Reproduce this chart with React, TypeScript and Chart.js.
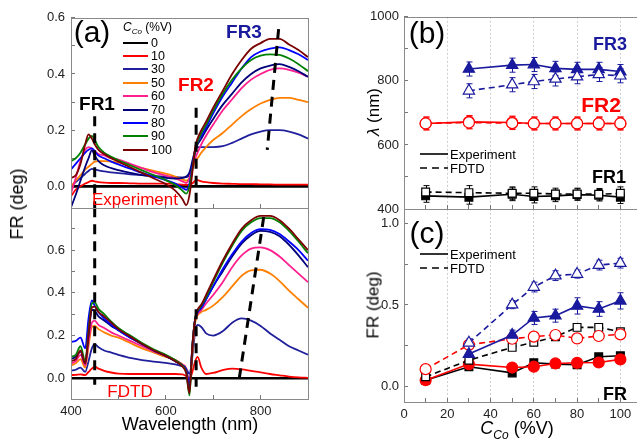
import React, { useEffect, useRef } from 'react';
import { Chart, registerables } from 'chart.js';
Chart.register(...registerables);

// ---------- DATA ----------
const WL = [400, 410, 420, 430, 437, 444, 450, 458, 470, 485, 500, 525, 550, 575, 600, 620, 635, 643, 650, 656, 662, 667, 675, 685, 700, 720, 740, 760, 780, 800, 820, 840, 860, 880, 900];
const CONC = ['0', '10', '30', '50', '60', '70', '80', '90', '100'];
const COLORS = ['#000000', '#ff0000', '#20209c', '#ff8000', '#ff1f8f', '#00007a', '#0000ff', '#008000', '#7a0000'];

// Experiment (top panel)
const EXP_0 = [0, 0, 0, 0, 0, 0, 0, 0, 0, 0, 0, 0, 0, 0, 0, 0, 0, 0, 0, 0, 0, 0, 0, 0, 0, 0, 0, 0, 0, 0, 0, 0, 0, 0, 0];
const EXP_10 = [-0.035, -0.012, 0.0, 0.01, 0.015, 0.02, 0.018, 0.015, 0.013, 0.012, 0.012, 0.011, 0.01, 0.01, 0.01, 0.008, 0.006, 0.005, 0.006, 0.01, 0.02, 0.022, 0.018, 0.015, 0.012, 0.01, 0.009, 0.008, 0.008, 0.007, 0.007, 0.006, 0.006, 0.006, 0.006];
const EXP_30 = [0.0, 0.015, 0.03, 0.045, 0.055, 0.062, 0.06, 0.057, 0.053, 0.05, 0.047, 0.043, 0.04, 0.037, 0.035, 0.033, 0.032, 0.033, 0.04, 0.07, 0.12, 0.14, 0.14, 0.14, 0.14, 0.143, 0.155, 0.17, 0.185, 0.195, 0.2, 0.2, 0.195, 0.185, 0.17];
const EXP_50 = [0.0, 0.02, 0.04, 0.06, 0.07, 0.08, 0.088, 0.09, 0.09, 0.088, 0.085, 0.075, 0.065, 0.055, 0.045, 0.035, 0.025, 0.02, 0.03, 0.06, 0.09, 0.1, 0.12, 0.14, 0.165, 0.19, 0.22, 0.25, 0.275, 0.295, 0.308, 0.315, 0.315, 0.308, 0.3];
const EXP_60 = [-0.025, 0.03, 0.09, 0.13, 0.14, 0.135, 0.125, 0.115, 0.11, 0.1, 0.095, 0.08, 0.065, 0.05, 0.038, 0.028, 0.018, 0.012, 0.03, 0.07, 0.1, 0.12, 0.15, 0.18, 0.22, 0.27, 0.31, 0.35, 0.38, 0.4, 0.415, 0.42, 0.415, 0.405, 0.39];
const EXP_70 = [-0.075, -0.03, 0.02, 0.07, 0.1, 0.128, 0.11, 0.09, 0.075, 0.065, 0.058, 0.048, 0.04, 0.035, 0.03, 0.028, 0.03, 0.035, 0.05, 0.09, 0.13, 0.15, 0.17, 0.2, 0.24, 0.29, 0.33, 0.37, 0.4, 0.42, 0.43, 0.435, 0.425, 0.41, 0.39];
const EXP_80 = [0.06, 0.08, 0.1, 0.12, 0.13, 0.135, 0.125, 0.11, 0.1, 0.088, 0.078, 0.063, 0.048, 0.035, 0.022, 0.01, -0.005, -0.012, 0.01, 0.07, 0.13, 0.16, 0.18, 0.21, 0.26, 0.32, 0.37, 0.42, 0.46, 0.48, 0.49, 0.495, 0.485, 0.47, 0.45];
const EXP_90 = [0.09, 0.1, 0.12, 0.15, 0.17, 0.18, 0.165, 0.14, 0.12, 0.105, 0.093, 0.075, 0.057, 0.04, 0.022, 0.005, -0.015, -0.026, 0.0, 0.06, 0.13, 0.16, 0.19, 0.22, 0.27, 0.33, 0.38, 0.42, 0.45, 0.465, 0.47, 0.468, 0.455, 0.435, 0.41];
const EXP_100 = [0.03, 0.04, 0.08, 0.15, 0.185, 0.17, 0.15, 0.13, 0.115, 0.1, 0.088, 0.068, 0.048, 0.028, 0.008, -0.015, -0.045, -0.067, -0.03, 0.05, 0.14, 0.17, 0.2, 0.23, 0.28, 0.34, 0.4, 0.45, 0.49, 0.51, 0.525, 0.525, 0.505, 0.485, 0.46];

// FDTD (bottom panel)
const FDTD_0 = [0, 0, 0, 0, 0, 0, 0, 0, 0, 0, 0, 0, 0, 0, 0, 0, 0, 0, 0, 0, 0, 0, 0, 0, 0, 0, 0, 0, 0, 0, 0, 0, 0, 0, 0];
const FDTD_10 = [0.015, 0.016, 0.018, 0.015, 0.03, 0.045, 0.055, 0.045, 0.035, 0.027, 0.022, 0.02, 0.02, 0.02, 0.02, 0.02, 0.018, 0.01, -0.005, 0.03, 0.08, 0.1, 0.05, 0.02, 0.025, 0.038, 0.045, 0.042, 0.035, 0.028, 0.02, 0.014, 0.008, 0.004, 0.002];
const FDTD_30 = [0.035, 0.04, 0.05, 0.03, 0.08, 0.14, 0.16, 0.145, 0.13, 0.12, 0.11, 0.095, 0.085, 0.078, 0.072, 0.065, 0.055, 0.045, 0.02, 0.1, 0.22, 0.25, 0.24, 0.21, 0.2, 0.22, 0.26, 0.28, 0.27, 0.245, 0.21, 0.18, 0.15, 0.13, 0.11];
const FDTD_50 = [0.06, 0.07, 0.09, 0.05, 0.15, 0.24, 0.245, 0.23, 0.215, 0.2, 0.19, 0.165, 0.14, 0.12, 0.1, 0.085, 0.065, 0.045, -0.03, 0.12, 0.26, 0.295, 0.31, 0.32, 0.34, 0.38, 0.43, 0.48, 0.505, 0.508, 0.49, 0.455, 0.41, 0.37, 0.33];
const FDTD_60 = [0.07, 0.08, 0.11, 0.06, 0.17, 0.26, 0.27, 0.25, 0.235, 0.215, 0.2, 0.175, 0.15, 0.125, 0.105, 0.085, 0.065, 0.045, -0.03, 0.14, 0.27, 0.3, 0.32, 0.35, 0.39, 0.45, 0.52, 0.575, 0.607, 0.613, 0.6, 0.57, 0.53, 0.49, 0.45];
const FDTD_70 = [0.09, 0.1, 0.125, 0.07, 0.2, 0.32, 0.315, 0.29, 0.27, 0.245, 0.225, 0.19, 0.16, 0.13, 0.105, 0.08, 0.06, 0.04, -0.05, 0.15, 0.28, 0.31, 0.33, 0.37, 0.43, 0.5, 0.57, 0.63, 0.67, 0.69, 0.685, 0.665, 0.625, 0.575, 0.52];
const FDTD_80 = [0.17, 0.175, 0.19, 0.14, 0.28, 0.365, 0.34, 0.31, 0.28, 0.25, 0.225, 0.19, 0.16, 0.13, 0.105, 0.08, 0.06, 0.04, -0.04, 0.15, 0.28, 0.31, 0.33, 0.37, 0.43, 0.51, 0.58, 0.64, 0.68, 0.698, 0.695, 0.675, 0.64, 0.6, 0.55];
const FDTD_90 = [0.1, 0.11, 0.15, 0.08, 0.22, 0.35, 0.355, 0.325, 0.3, 0.265, 0.235, 0.2, 0.165, 0.135, 0.11, 0.085, 0.06, 0.03, -0.08, 0.15, 0.28, 0.315, 0.34, 0.38, 0.45, 0.54, 0.62, 0.69, 0.73, 0.75, 0.75, 0.73, 0.69, 0.64, 0.585];
const FDTD_100 = [0.08, 0.09, 0.13, 0.07, 0.21, 0.33, 0.335, 0.31, 0.29, 0.26, 0.23, 0.195, 0.16, 0.13, 0.105, 0.08, 0.055, 0.025, -0.07, 0.15, 0.28, 0.32, 0.345, 0.39, 0.46, 0.55, 0.63, 0.7, 0.74, 0.76, 0.76, 0.74, 0.7, 0.65, 0.6];

// Dashed guide lines (wavelength, FR)
const GUIDE_TOP_FR1_X = [450, 450];
const GUIDE_TOP_FR1_Y = [0.25, -0.08];
const GUIDE_TOP_FR2_X = [664, 664];
const GUIDE_TOP_FR2_Y = [0.28, -0.08];
const GUIDE_TOP_FR3_X = [838, 814];
const GUIDE_TOP_FR3_Y = [0.56, 0.13];
const GUIDE_BOT_FR1_X = [450, 450];
const GUIDE_BOT_FR1_Y = [0.8, -0.03];
const GUIDE_BOT_FR2_X = [664, 664];
const GUIDE_BOT_FR2_Y = [0.8, -0.04];
const GUIDE_BOT_FR3_X = [755, 808];
const GUIDE_BOT_FR3_Y = [0.0, 0.775];

// Panels (b) and (c): Co concentration (%V)
const CCO = [10, 30, 50, 60, 70, 80, 90, 100];
const B_FR1_EXP = [441, 437, 446, 439, 441, 445, 443, 437];
const B_FR1_FDTD = [453, 451, 449, 449, 447, 447, 446, 449];
const B_FR2_EXP = [667, 672, 670, 667, 667, 667, 667, 667];
const B_FR2_FDTD = [667, 670, 668, 667, 667, 667, 667, 667];
const B_FR3_EXP = [null, 837, 849, 851, 839, 836, 836, 829];
const B_FR3_FDTD = [null, 769, 788, 798, 806, 813, 820, 816];
const B_ERR_FR1 = [20, 22, 20, 20, 18, 18, 18, 20];
const B_ERR_FR2 = [20, 20, 20, 20, 20, 20, 20, 20];
const B_ERR_FR3 = [null, 22, 22, 22, 22, 22, 22, 22];

const C_FR1_EXP = [0.037, 0.12, 0.082, 0.144, 0.136, 0.132, 0.181, 0.187];
const C_FR1_FDTD = [0.058, 0.16, 0.239, 0.27, 0.305, 0.362, 0.362, 0.335];
const C_FR2_EXP = [0.037, 0.136, 0.115, 0.12, 0.14, 0.144, 0.146, 0.165];
const C_FR2_FDTD = [0.105, 0.255, 0.292, 0.305, 0.315, 0.294, 0.309, 0.319];
const C_FR3_EXP = [null, 0.198, 0.315, 0.42, 0.434, 0.494, 0.475, 0.525];
const C_FR3_FDTD = [null, 0.267, 0.502, 0.61, 0.68, 0.69, 0.745, 0.757];
const C_ERR_FR3_EXP = [null, 0.03, 0.03, 0.04, 0.04, 0.05, 0.045, 0.05];
const C_ERR_FR3_FDTD = [null, 0.025, 0.025, 0.03, 0.03, 0.025, 0.03, 0.03];
const C_ERR_FR2_FDTD = [0.02, 0.02, 0.015, 0.015, 0.015, 0.015, 0.015, 0.015];
const C_ERR_SMALL = [0.01, 0.01, 0.01, 0.01, 0.01, 0.01, 0.01, 0.01];

const X_TICKS_A = [400, 600, 800];
const X_TICKS_BC = [0, 20, 40, 60, 80, 100];

// ---------- LAYOUT ----------
const CW = 660;
const CH = 443;
const FONT = "'Liberation Sans', Arial, sans-serif";
const NAVY = '#1a1a9e';

const framePlugin = {
  id: 'frame',
  afterDatasetsDraw(chart: any) {
    const { ctx, chartArea: a } = chart;
    ctx.save();
    ctx.strokeStyle = '#8a8a8a';
    ctx.lineWidth = 1;
    ctx.setLineDash([]);
    ctx.strokeRect(Math.round(a.left) + 0.5, Math.round(a.top) + 0.5, Math.round(a.right - a.left), Math.round(a.bottom - a.top));
    ctx.restore();
  },
};

const errorBarPlugin = {
  id: 'errbars',
  beforeDatasetsDraw(chart: any) {
    const ctx = chart.ctx;
    const ys = chart.scales.y;
    chart.data.datasets.forEach((ds: any, di: number) => {
      if (!ds.errors) return;
      const meta = chart.getDatasetMeta(di);
      ctx.save();
      ctx.strokeStyle = ds.errColor || ds.borderColor;
      ctx.lineWidth = 1;
      ctx.setLineDash([]);
      meta.data.forEach((pt: any, i: number) => {
        const v = ds.data[i].y;
        const e = ds.errors[i];
        if (v == null || e == null) return;
        const x = Math.round(pt.x) + 0.5;
        const y1 = ys.getPixelForValue(v + e);
        const y2 = ys.getPixelForValue(v - e);
        ctx.beginPath();
        ctx.moveTo(x, y1); ctx.lineTo(x, y2);
        ctx.moveTo(x - 3, y1); ctx.lineTo(x + 3, y1);
        ctx.moveTo(x - 3, y2); ctx.lineTo(x + 3, y2);
        ctx.stroke();
      });
      ctx.restore();
    });
  },
};

function isMult(v: number, s: number) {
  const q = v / s;
  return Math.abs(q - Math.round(q)) < 1e-6;
}

function baseConfig(area: { l: number; t: number; r: number; b: number }, datasets: any[], xScale: any, yScale: any) {
  return {
    type: 'line',
    data: { datasets },
    plugins: [framePlugin, errorBarPlugin],
    options: {
      responsive: false,
      animation: false,
      devicePixelRatio: 1,
      events: [],
      layout: { padding: { left: 0, top: area.t, right: CW - area.r, bottom: 0 } },
      plugins: { legend: { display: false }, tooltip: { enabled: false } },
      scales: {
        x: { type: 'linear', ...xScale, afterFit: (s: any) => { s.height = CH - area.b; } },
        y: { type: 'linear', ...yScale, afterFit: (s: any) => { s.width = area.l; } },
      },
    },
  } as any;
}

const tickFont = { family: FONT, size: 13 };

function curveSets(series: number[][]) {
  return series
    .map((vals, i) => ({
      data: WL.map((x, k) => ({ x, y: vals[k] })),
      borderColor: COLORS[i],
      borderWidth: i === 0 ? 2.6 : 1.8,
      pointRadius: 0,
      cubicInterpolationMode: 'monotone',
      fill: false,
    }))
    .reverse();
}

function guide(xs: number[], ys: number[]) {
  return {
    data: xs.map((x, k) => ({ x, y: ys[k] })),
    borderColor: '#000',
    borderWidth: 3,
    borderDash: [10, 7],
    pointRadius: 0,
    fill: false,
  };
}

function leftX(showLabels: boolean) {
  return {
    min: 400,
    max: 900,
    border: { display: false },
    grid: { drawOnChartArea: false, drawTicks: true, tickLength: -4, tickColor: '#777' },
    ticks: {
      stepSize: 100,
      padding: 9,
      color: '#222',
      font: tickFont,
      maxRotation: 0,
      autoSkip: false,
      callback: (v: number) => (showLabels && X_TICKS_A.includes(v) ? String(v) : ''),
    },
  };
}

function leftY(min: number, max: number) {
  return {
    min,
    max,
    border: { display: false },
    grid: { drawOnChartArea: false, drawTicks: true, tickLength: -4, tickColor: '#777' },
    ticks: {
      stepSize: 0.1,
      includeBounds: false,
      padding: 10,
      color: '#222',
      font: tickFont,
      autoSkip: false,
      callback: (v: number) => (isMult(v, 0.2) && v < 0.7 ? v.toFixed(1) : ''),
    },
  };
}

function rightX(showLabels: boolean) {
  return {
    min: 0,
    max: 110,
    border: { display: false, dash: [2, 2] },
    grid: {
      drawOnChartArea: true,
      drawTicks: true,
      tickLength: -4,
      tickColor: '#777',
      color: (c: any) => (c.tick && c.tick.value > 0 && c.tick.value <= 100 && isMult(c.tick.value, 20) ? '#cfcfcf' : 'rgba(0,0,0,0)'),
    },
    ticks: {
      stepSize: 10,
      padding: 9,
      color: '#222',
      font: tickFont,
      maxRotation: 0,
      autoSkip: false,
      callback: (v: number) => (showLabels && X_TICKS_BC.includes(v) ? String(v) : ''),
    },
  };
}

function pts(xs: number[], ys: (number | null)[]) {
  return xs.map((x, k) => ({ x, y: ys[k] }));
}

function markerSet(ys: (number | null)[], errs: (number | null)[], color: string, style: string, filled: boolean, dashed: boolean, radius: number) {
  return {
    data: pts(CCO, ys),
    errors: errs,
    borderColor: color,
    backgroundColor: filled ? color : '#ffffff',
    borderWidth: 1.6,
    borderDash: dashed ? [6, 4] : [],
    pointStyle: style,
    pointRadius: radius,
    pointBorderWidth: 1.2,
    pointBorderColor: color,
    pointBackgroundColor: filled ? color : '#ffffff',
    fill: false,
    spanGaps: false,
  };
}

export default function App() {
  const refA1 = useRef<HTMLCanvasElement>(null);
  const refA2 = useRef<HTMLCanvasElement>(null);
  const refB = useRef<HTMLCanvasElement>(null);
  const refC = useRef<HTMLCanvasElement>(null);

  useEffect(() => {
    const charts: Chart[] = [];
    const top = baseConfig(
      { l: 71, t: 15, r: 308, b: 208 },
      [
        guide(GUIDE_TOP_FR1_X, GUIDE_TOP_FR1_Y),
        guide(GUIDE_TOP_FR2_X, GUIDE_TOP_FR2_Y),
        guide(GUIDE_TOP_FR3_X, GUIDE_TOP_FR3_Y),
        ...curveSets([EXP_0, EXP_10, EXP_30, EXP_50, EXP_60, EXP_70, EXP_80, EXP_90, EXP_100]),
      ],
      leftX(false),
      leftY(-0.077, 0.6)
    );
    const bottom = baseConfig(
      { l: 71, t: 208, r: 308, b: 399 },
      [
        guide(GUIDE_BOT_FR1_X, GUIDE_BOT_FR1_Y),
        guide(GUIDE_BOT_FR2_X, GUIDE_BOT_FR2_Y),
        guide(GUIDE_BOT_FR3_X, GUIDE_BOT_FR3_Y),
        ...curveSets([FDTD_0, FDTD_10, FDTD_30, FDTD_50, FDTD_60, FDTD_70, FDTD_80, FDTD_90, FDTD_100]),
      ],
      leftX(true),
      leftY(-0.097, 0.797)
    );
    const b = baseConfig(
      { l: 404, t: 15, r: 642, b: 209 },
      [
        markerSet(B_FR3_FDTD, B_ERR_FR3, NAVY, 'triangle', false, true, 6.5),
        markerSet(B_FR3_EXP, B_ERR_FR3, NAVY, 'triangle', true, false, 6.5),
        markerSet(B_FR2_FDTD, B_ERR_FR2, '#ff0000', 'circle', false, true, 5.5),
        markerSet(B_FR2_EXP, B_ERR_FR2, '#ff0000', 'circle', false, false, 5.5),
        markerSet(B_FR1_FDTD, B_ERR_FR1, '#000000', 'rect', false, true, 5.5),
        markerSet(B_FR1_EXP, B_ERR_FR1, '#000000', 'rect', true, false, 5.5),
      ],
      rightX(false),
      {
        min: 400,
        max: 1000,
        border: { display: false },
        grid: { drawOnChartArea: false, drawTicks: true, tickLength: -4, tickColor: '#777' },
        ticks: {
          stepSize: 100,
          padding: 9,
          color: '#222',
          font: tickFont,
          autoSkip: false,
          callback: (v: number) => (isMult(v, 200) ? String(v) : ''),
        },
      }
    );
    const c = baseConfig(
      { l: 404, t: 209, r: 642, b: 402 },
      [
        markerSet(C_FR3_FDTD, C_ERR_FR3_FDTD, NAVY, 'triangle', false, true, 6.5),
        markerSet(C_FR3_EXP, C_ERR_FR3_EXP, NAVY, 'triangle', true, false, 6.5),
        markerSet(C_FR2_FDTD, C_ERR_FR2_FDTD, '#ff0000', 'circle', false, true, 5.5),
        markerSet(C_FR1_FDTD, C_ERR_SMALL, '#000000', 'rect', false, true, 5.5),
        markerSet(C_FR2_EXP, C_ERR_SMALL, '#ff0000', 'circle', true, false, 5.5),
        markerSet(C_FR1_EXP, C_ERR_SMALL, '#000000', 'rect', true, false, 5.5),
      ],
      rightX(true),
      {
        min: -0.097,
        max: 1.09,
        border: { display: false },
        grid: { drawOnChartArea: false, drawTicks: true, tickLength: -4, tickColor: '#777' },
        ticks: {
          stepSize: 0.25,
          includeBounds: false,
          padding: 9,
          color: '#222',
          font: tickFont,
          autoSkip: false,
          callback: (v: number) => (isMult(v, 0.5) ? v.toFixed(1) : ''),
        },
      }
    );
    charts.push(new Chart(refA1.current as HTMLCanvasElement, top));
    charts.push(new Chart(refA2.current as HTMLCanvasElement, bottom));
    charts.push(new Chart(refB.current as HTMLCanvasElement, b));
    charts.push(new Chart(refC.current as HTMLCanvasElement, c));
    return () => charts.forEach((ch) => ch.destroy());
  }, []);

  const canvasStyle: React.CSSProperties = { position: 'absolute', left: 0, top: 0, width: CW, height: CH };
  const txt = (x: number, y: number, size: number, extra: React.CSSProperties = {}): React.CSSProperties => ({
    position: 'absolute',
    left: x,
    top: y,
    transform: 'translate(-50%, -50%)',
    fontFamily: FONT,
    fontSize: size,
    lineHeight: 1,
    whiteSpace: 'nowrap',
    ...extra,
  });
  const rot = (x: number, y: number, size: number): React.CSSProperties => ({
    ...txt(x, y, size),
    transform: 'translate(-50%, -50%) rotate(-90deg)',
  });

  return (
    <div style={{ position: 'fixed', left: 0, top: 0, width: 637, height: 443, overflow: 'hidden', background: '#fff' }}>
      <canvas ref={refA1} width={CW} height={CH} style={canvasStyle} />
      <canvas ref={refA2} width={CW} height={CH} style={canvasStyle} />
      <canvas ref={refB} width={CW} height={CH} style={canvasStyle} />
      <canvas ref={refC} width={CW} height={CH} style={canvasStyle} />

      {/* panel (a) texts */}
      <div style={txt(92, 32, 30)}>(a)</div>
      <div style={txt(97, 103, 19, { fontWeight: 'bold' })}>FR1</div>
      <div style={txt(196, 84, 19, { fontWeight: 'bold', color: '#ff0000' })}>FR2</div>
      <div style={txt(244, 31, 19, { fontWeight: 'bold', color: NAVY })}>FR3</div>
      <div style={txt(135, 199, 17, { color: '#ff0000' })}>Experiment</div>
      <div style={txt(130, 391, 17, { color: '#ff0000' })}>FDTD</div>
      <div style={{ position: 'absolute', left: 123, top: 21, fontFamily: FONT, fontSize: 12, lineHeight: 1, whiteSpace: 'nowrap' }}>
        <i>C</i>
        <sub style={{ fontSize: 8, fontStyle: 'italic' }}>Co</sub> (%V)
      </div>
      {CONC.map((cname, i) => (
        <React.Fragment key={cname}>
          <div style={{ position: 'absolute', left: 123, top: 41.5 + 13.4 * i, width: 25, height: 2, background: COLORS[i] }} />
          <div style={{ position: 'absolute', left: 151, top: 42.5 + 13.4 * i, transform: 'translateY(-50%)', fontFamily: FONT, fontSize: 12.5, lineHeight: 1 }}>{cname}</div>
        </React.Fragment>
      ))}
      <div style={rot(17, 204, 18)}>FR (deg)</div>
      <div style={txt(190, 424, 18)}>Wavelength (nm)</div>

      {/* panel (b) texts */}
      <div style={txt(427, 33, 30)}>(b)</div>
      <div style={txt(610, 44, 18, { fontWeight: 'bold', color: NAVY })}>FR3</div>
      <div style={txt(601, 104, 21, { fontWeight: 'bold', color: '#ff0000' })}>FR2</div>
      <div style={txt(609, 177, 18, { fontWeight: 'bold' })}>FR1</div>
      <svg style={{ position: 'absolute', left: 420, top: 148, overflow: 'visible' }} width={30} height={24}>
        <line x1={0} y1={6} x2={28} y2={6} stroke="#000" strokeWidth={1.6} />
        <line x1={0} y1={20} x2={28} y2={20} stroke="#000" strokeWidth={1.6} strokeDasharray="7 5" />
      </svg>
      <div style={{ position: 'absolute', left: 450, top: 154, transform: 'translateY(-50%)', fontFamily: FONT, fontSize: 13, lineHeight: 1 }}>Experiment</div>
      <div style={{ position: 'absolute', left: 450, top: 168, transform: 'translateY(-50%)', fontFamily: FONT, fontSize: 13, lineHeight: 1 }}>FDTD</div>
      <div style={rot(373, 112, 17)}>
        <i>λ</i> (nm)
      </div>

      {/* panel (c) texts */}
      <div style={txt(427, 233, 30)}>(c)</div>
      <div style={txt(615, 394, 18, { fontWeight: 'bold' })}>FR</div>
      <svg style={{ position: 'absolute', left: 420, top: 248, overflow: 'visible' }} width={30} height={24}>
        <line x1={0} y1={6} x2={28} y2={6} stroke="#000" strokeWidth={1.6} />
        <line x1={0} y1={20} x2={28} y2={20} stroke="#000" strokeWidth={1.6} strokeDasharray="7 5" />
      </svg>
      <div style={{ position: 'absolute', left: 450, top: 254, transform: 'translateY(-50%)', fontFamily: FONT, fontSize: 13, lineHeight: 1 }}>Experiment</div>
      <div style={{ position: 'absolute', left: 450, top: 268, transform: 'translateY(-50%)', fontFamily: FONT, fontSize: 13, lineHeight: 1 }}>FDTD</div>
      <div style={rot(373, 305, 17)}>FR (deg)</div>
      <div style={txt(517, 430, 18)}>
        <i>C</i>
        <sub style={{ fontSize: 12, fontStyle: 'italic' }}>Co</sub> (%V)
      </div>
    </div>
  );
}
